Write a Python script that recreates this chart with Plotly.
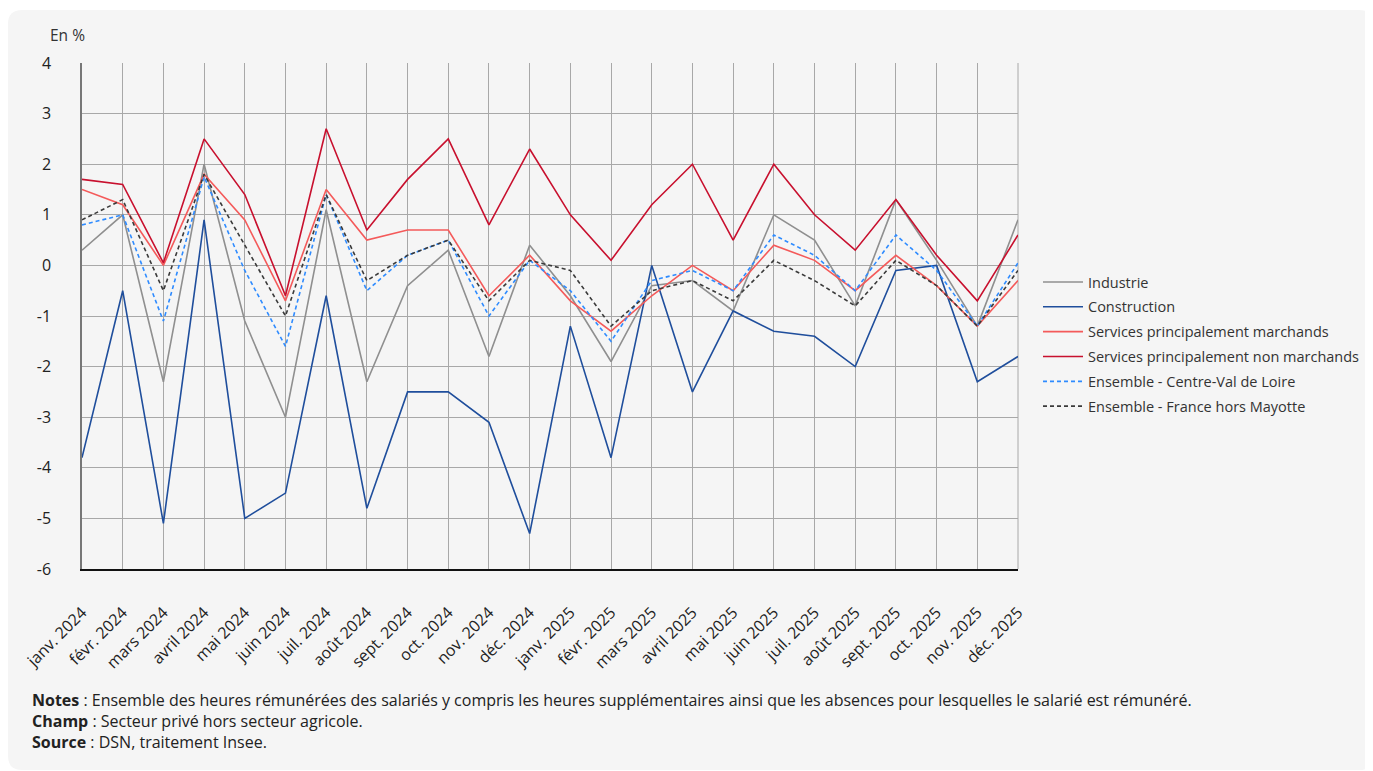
import plotly.graph_objects as go

mois = ["janv. 2024", "févr. 2024", "mars 2024", "avril 2024", "mai 2024", "juin 2024",
        "juil. 2024", "août 2024", "sept. 2024", "oct. 2024", "nov. 2024", "déc. 2024",
        "janv. 2025", "févr. 2025", "mars 2025", "avril 2025", "mai 2025", "juin 2025",
        "juil. 2025", "août 2025", "sept. 2025", "oct. 2025", "nov. 2025", "déc. 2025"]

industrie = [0.3, 1.0, -2.3, 2.0, -1.1, -3.0, 1.1, -2.3, -0.4, 0.3, -1.8, 0.4,
             -0.6, -1.9, -0.4, -0.3, -0.9, 1.0, 0.5, -0.8, 1.3, 0.1, -1.2, 0.9]
construction = [-3.8, -0.5, -5.1, 0.9, -5.0, -4.5, -0.6, -4.8, -2.5, -2.5, -3.1, -5.3,
                -1.2, -3.8, 0.0, -2.5, -0.9, -1.3, -1.4, -2.0, -0.1, 0.0, -2.3, -1.8]
serv_marchands = [1.5, 1.2, 0.0, 1.8, 0.9, -0.7, 1.5, 0.5, 0.7, 0.7, -0.6, 0.2,
                  -0.7, -1.3, -0.6, 0.0, -0.5, 0.4, 0.1, -0.5, 0.2, -0.4, -1.2, -0.3]
serv_non_marchands = [1.7, 1.6, 0.05, 2.5, 1.4, -0.6, 2.7, 0.7, 1.7, 2.5, 0.8, 2.3,
                      1.0, 0.1, 1.2, 2.0, 0.5, 2.0, 1.0, 0.3, 1.3, 0.2, -0.7, 0.6]
centre_val_de_loire = [0.8, 1.0, -1.1, 1.75, -0.1, -1.6, 1.4, -0.5, 0.2, 0.5, -1.0, 0.1,
                       -0.5, -1.5, -0.3, -0.1, -0.5, 0.6, 0.2, -0.5, 0.6, -0.1, -1.2, 0.05]
france = [0.9, 1.3, -0.5, 1.8, 0.4, -1.0, 1.4, -0.3, 0.2, 0.5, -0.7, 0.1,
          -0.1, -1.2, -0.5, -0.3, -0.7, 0.1, -0.3, -0.8, 0.1, -0.4, -1.2, -0.1]

y_ticks = [4, 3, 2, 1, 0, -1, -2, -3, -4, -5, -6]
y_labels = ["4", "3", "2", "1", "0", "-1", "-2", "-3", "-4", "-5", "-6"]

# the page has an 8px body margin, so figure coords = screen coords - 8
W, H = 1365, 763
L, R, T, B = 74, 1010, 55, 561


def px(x):
    return (x - L) / (R - L)


def py(y):
    return (B - y) / (B - T)


FONT = "Open Sans"
fig = go.Figure()

series = [
    ("Industrie", industrie, "#8f8f8f", "solid"),
    ("Construction", construction, "#1f4e9c", "solid"),
    ("Services principalement marchands", serv_marchands, "#f45a5a", "solid"),
    ("Services principalement non marchands", serv_non_marchands, "#c8102e", "solid"),
    ("Ensemble - Centre-Val de Loire", centre_val_de_loire, "#2e8bff", "4px,3px"),
    ("Ensemble - France hors Mayotte", france, "#3a3a3a", "4px,3px"),
]
for name, vals, col, dash in series:
    fig.add_trace(go.Scatter(x=mois, y=vals, name=name, mode="lines", legendgroup=name,
                             line=dict(color=col, width=1.6, dash=dash)))

# rounded light panel behind everything
x0, x1, y0, y1, r = 0, 1365, 2, 762, 14
path = (f"M {px(x0 + r)},{py(y0)} L {px(x1 - r)},{py(y0)} Q {px(x1)},{py(y0)} {px(x1)},{py(y0 + r)} "
        f"L {px(x1)},{py(y1 - r)} Q {px(x1)},{py(y1)} {px(x1 - r)},{py(y1)} "
        f"L {px(x0 + r)},{py(y1)} Q {px(x0)},{py(y1)} {px(x0)},{py(y1 - r)} "
        f"L {px(x0)},{py(y0 + r)} Q {px(x0)},{py(y0)} {px(x0 + r)},{py(y0)} Z")
fig.add_shape(type="path", path=path, xref="paper", yref="paper",
              fillcolor="#f5f5f5", line=dict(width=0), layer="below")

fig.add_annotation(text="En %", x=px(40), y=py(27), xref="paper", yref="paper",
                   xanchor="left", yanchor="middle", showarrow=False,
                   font=dict(family=FONT, size=15.5, color="#333333"))

notes = [
    ("<b>Notes</b> : Ensemble des heures rémunérées des salariés y compris les heures supplémentaires "
     "ainsi que les absences pour lesquelles le salarié est rémunéré.", 692),
    ("<b>Champ</b> : Secteur privé hors secteur agricole.", 713),
    ("<b>Source</b> : DSN, traitement Insee.", 734),
]
for txt, yy in notes:
    fig.add_annotation(text=txt, x=px(22), y=py(yy), xref="paper", yref="paper",
                       xanchor="left", yanchor="middle", showarrow=False,
                       font=dict(family=FONT, size=16, color="#222222"))

fig.update_layout(
    width=W, height=H,
    margin=dict(l=L, r=W - R, t=T, b=H - B, autoexpand=False),
    paper_bgcolor="white",
    plot_bgcolor="#f5f5f5",
    font=dict(family=FONT, size=13, color="#333333"),
    showlegend=True,
    legend=dict(x=px(1030), y=py(258), xanchor="left", yanchor="top",
                bgcolor="rgba(0,0,0,0)", traceorder="grouped", tracegroupgap=3,
                itemwidth=40,
                font=dict(family=FONT, size=14.5, color="#333333")),
)
fig.update_xaxes(type="category", range=[0, len(mois) - 1], tickangle=-45,
                 showgrid=True, gridcolor="#a8a8a8", gridwidth=1,
                 showline=True, linecolor="#111111", linewidth=2, mirror=False,
                 ticklabelstandoff=26, automargin=False,
                 tickfont=dict(family=FONT, size=16, color="#222222"), ticks="")
fig.update_yaxes(range=[-6, 4], tickvals=y_ticks, ticktext=y_labels,
                 showgrid=True, gridcolor="#a8a8a8", gridwidth=1,
                 zeroline=False, showline=True, linecolor="#777777", linewidth=1.5,
                 ticklabelstandoff=26, automargin=False,
                 tickfont=dict(family=FONT, size=16, color="#222222"))
# right border
fig.add_shape(type="line", x0=1, x1=1, y0=0, y1=1, xref="paper", yref="paper",
              line=dict(color="#a8a8a8", width=1), layer="below")

fig.write_html("out.html")
